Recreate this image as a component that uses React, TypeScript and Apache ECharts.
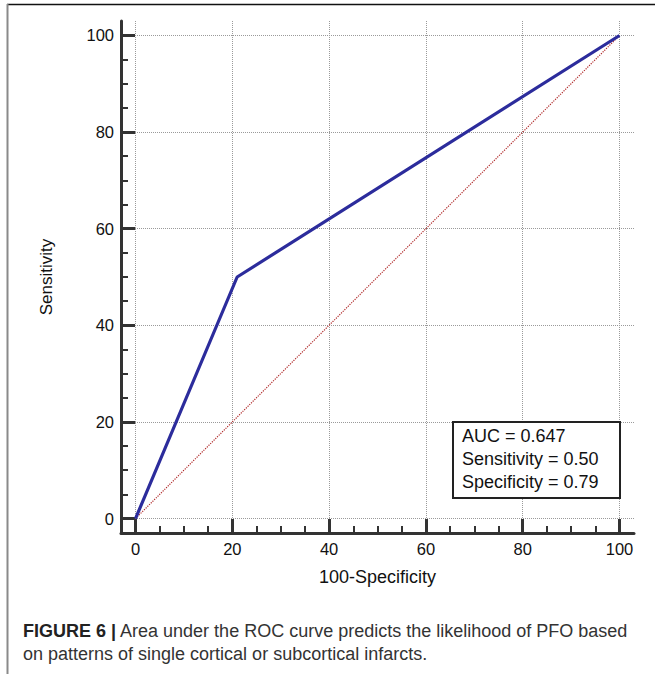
import React, { useEffect, useRef } from "react";
import * as echarts from "echarts";

// ROC curve points (100-Specificity, Sensitivity)
const rocX = [0, 21, 100];
const rocY = [0, 50, 100];
// Reference (chance) diagonal
const refX = [0, 100];
const refY = [0, 100];
const majorTicks = [0, 20, 40, 60, 80, 100];
const minorTicks = [5, 10, 15, 25, 30, 35, 45, 50, 55, 65, 70, 75, 85, 90, 95];
const statLines = ["AUC = 0.647", "Sensitivity = 0.50", "Specificity = 0.79"];
const xTitle = "100-Specificity";
const yTitle = "Sensitivity";
const captionBold = "FIGURE 6 |";
const captionLine1 = " Area under the ROC curve predicts the likelihood of PFO based";
const captionLine2 = "on patterns of single cortical or subcortical infarcts.";

const FONT = "'Liberation Sans', Arial, Helvetica, sans-serif";
const AXIS_MIN = -3;
const AXIS_MAX = 103;
const AXIS_COLOR = "#333333";

function majorAxis(isX: boolean) {
  return {
    type: "value",
    min: AXIS_MIN,
    max: AXIS_MAX,
    position: isX ? "bottom" : "left",
    name: isX ? xTitle : yTitle,
    nameLocation: "middle",
    nameGap: isX ? 35 : 66,
    nameTextStyle: { color: "#111", fontSize: isX ? 18 : 17, fontFamily: FONT },
    axisLine: { show: true, onZero: false, lineStyle: { color: AXIS_COLOR, width: 3 } },
    axisTick: {
      show: true,
      inside: true,
      length: 14,
      customValues: majorTicks,
      lineStyle: { color: AXIS_COLOR, width: 3 },
    },
    axisLabel: {
      show: true,
      customValues: majorTicks,
      color: "#111",
      fontSize: 16.5,
      fontFamily: FONT,
      margin: 7,
    },
    splitLine: { show: true, lineStyle: { type: "dotted", color: "#9a9a9a", width: 1 } },
  };
}

function minorAxis(isX: boolean) {
  return {
    type: "value",
    min: AXIS_MIN,
    max: AXIS_MAX,
    position: isX ? "bottom" : "left",
    offset: 0,
    axisLine: { show: false, onZero: false },
    axisTick: {
      show: true,
      inside: true,
      length: 7,
      customValues: minorTicks,
      lineStyle: { color: AXIS_COLOR, width: 2 },
    },
    axisLabel: { show: false },
    splitLine: { show: false },
  };
}

export default function App() {
  const ref = useRef<HTMLDivElement>(null);

  useEffect(() => {
    if (!ref.current) return;
    const chart = echarts.init(ref.current, undefined, { renderer: "svg" });
    const roc = rocX.map((x, i) => [x, rocY[i]]);
    const diag = refX.map((x, i) => [x, refY[i]]);

    const boxX = 453;
    const boxY = 422;
    const option: any = {
      animation: false,
      backgroundColor: "#ffffff",
      grid: { left: 121, top: 21, width: 513, height: 512, containLabel: false },
      xAxis: [majorAxis(true), minorAxis(true)],
      yAxis: [majorAxis(false), minorAxis(false)],
      series: [
        {
          type: "line",
          data: diag,
          xAxisIndex: 0,
          yAxisIndex: 0,
          symbol: "none",
          lineStyle: { color: "#b02a2a", width: 1.2, type: "dotted" },
          z: 3,
        },
        {
          type: "line",
          data: roc,
          xAxisIndex: 0,
          yAxisIndex: 0,
          symbol: "none",
          lineStyle: { color: "#2c2c9c", width: 3.2 },
          z: 4,
        },
      ],
      graphic: [
        // figure frame
        { type: "line", shape: { x1: 7, y1: 4.5, x2: 655, y2: 4.5 }, style: { stroke: "#111", lineWidth: 1.5 }, z: 10 },
        { type: "line", shape: { x1: 7.5, y1: 4, x2: 7.5, y2: 674 }, style: { stroke: "#8a8a8a", lineWidth: 2 }, z: 10 },
        // stats box
        {
          type: "rect",
          shape: { x: boxX, y: boxY, width: 167, height: 76 },
          style: { fill: "#ffffff", stroke: "#222", lineWidth: 2 },
          z: 10,
        },
        ...statLines.map((t, i) => ({
          type: "text",
          x: boxX + 9,
          y: boxY + 14 + i * 23,
          style: {
            text: t,
            fill: "#111",
            fontSize: 18,
            fontFamily: FONT,
            verticalAlign: "middle",
            align: "left",
          },
          z: 11,
        })),
        // caption
        {
          type: "text",
          x: 23,
          y: 631,
          style: {
            text: "{b|" + captionBold + "}{n|" + captionLine1 + "}",
            verticalAlign: "middle",
            rich: {
              b: { fontSize: 18, fontWeight: "bold", fontFamily: FONT, fill: "#222" },
              n: { fontSize: 18, fontFamily: FONT, fill: "#333" },
            },
          },
          z: 10,
        },
        {
          type: "text",
          x: 23,
          y: 654,
          style: {
            text: captionLine2,
            fontSize: 18,
            fontFamily: FONT,
            fill: "#333",
            verticalAlign: "middle",
          },
          z: 10,
        },
      ],
    };
    chart.setOption(option);
    return () => chart.dispose();
  }, []);

  return (
    <div
      ref={ref}
      style={{ position: "absolute", left: 0, top: 0, width: 655, height: 674, background: "#fff" }}
    />
  );
}
